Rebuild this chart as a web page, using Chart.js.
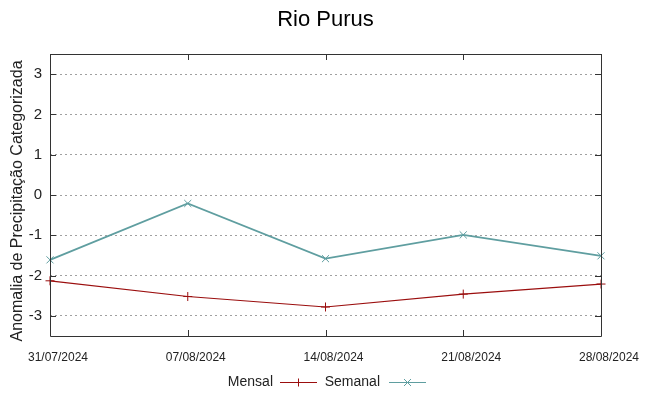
<!DOCTYPE html>
<html>
<head>
<meta charset="utf-8">
<script src="https://cdn.jsdelivr.net/npm/chart.js@4"></script>
<style>
  html, body { margin: 0; padding: 0; background: #fff; }
  #wrap { width: 649px; height: 396px; }
</style>
</head>
<body>
<div id="wrap"><canvas id="chart" width="649" height="396"></canvas></div>
<script>
// Data
const dates = ['31/07/2024', '07/08/2024', '14/08/2024', '21/08/2024', '28/08/2024'];
const mensal = [-2.13, -2.52, -2.78, -2.46, -2.21];
const semanal = [-1.61, -0.21, -1.58, -0.99, -1.51];
const yTicks = [-3, -2, -1, 0, 1, 2, 3];

const fontFamily = '"Liberation Sans", Arial, sans-serif';
const red = '#9b0e0e';
const teal = '#5f9ea0';

// gnuplot-like frame, inner tick marks, titles and legend
const gnuplotLook = {
    id: 'gnuplotLook',
    afterDraw(chart) {
        const ctx = chart.ctx;
        const a = chart.chartArea;
        const xs = chart.scales.x;
        const ys = chart.scales.y;
        ctx.save();
        ctx.strokeStyle = '#333';
        ctx.lineWidth = 1;
        ctx.beginPath();
        ctx.rect(Math.round(a.left) + 0.5, Math.round(a.top) + 0.5,
                 Math.round(a.right - a.left), Math.round(a.bottom - a.top));
        ctx.stroke();

        // tick marks inside the frame
        ctx.beginPath();
        yTicks.forEach(v => {
            const y = Math.round(ys.getPixelForValue(v)) + 0.5;
            ctx.moveTo(a.left, y); ctx.lineTo(a.left + 6, y);
            ctx.moveTo(a.right, y); ctx.lineTo(a.right - 6, y);
        });
        dates.forEach((d, i) => {
            const x = Math.round(xs.getPixelForValue(i)) + 0.5;
            ctx.moveTo(x, a.bottom); ctx.lineTo(x, a.bottom - 6);
            ctx.moveTo(x, a.top); ctx.lineTo(x, a.top + 6);
        });
        ctx.stroke();

        // title
        ctx.fillStyle = '#000';
        ctx.font = '22px ' + fontFamily;
        ctx.textAlign = 'center';
        ctx.textBaseline = 'middle';
        ctx.fillText('Rio Purus', (a.left + a.right) / 2, 20);

        // y axis title
        ctx.save();
        ctx.translate(18, 201);
        ctx.rotate(-Math.PI / 2);
        ctx.font = '16px ' + fontFamily;
        ctx.fillStyle = '#222';
        ctx.fillText('Anomalia de Precipitação Categorizada', 0, 0);
        ctx.restore();

        // legend: text then line sample with marker
        ctx.font = '14px ' + fontFamily;
        ctx.textAlign = 'right';
        const ly = 382.5;
        const entries = [
            { label: chart.data.datasets[0].label, color: red, end: 273, x0: 280, x1: 317, mark: '+' },
            { label: chart.data.datasets[1].label, color: teal, end: 380, x0: 389, x1: 426, mark: 'x' }
        ];
        entries.forEach(e => {
            ctx.fillStyle = '#222';
            ctx.fillText(e.label, e.end, ly);
            ctx.strokeStyle = e.color;
            ctx.lineWidth = 1;
            ctx.beginPath();
            ctx.moveTo(e.x0, ly); ctx.lineTo(e.x1, ly);
            const mx = (e.x0 + e.x1) / 2;
            if (e.mark === '+') {
                ctx.moveTo(mx, ly - 4); ctx.lineTo(mx, ly + 4);
            } else {
                ctx.moveTo(mx - 3.5, ly - 3.5); ctx.lineTo(mx + 3.5, ly + 3.5);
                ctx.moveTo(mx - 3.5, ly + 3.5); ctx.lineTo(mx + 3.5, ly - 3.5);
            }
            ctx.stroke();
        });
        ctx.restore();
    }
};

new Chart(document.getElementById('chart').getContext('2d'), {
    type: 'line',
    data: {
        labels: dates,
        datasets: [{
            label: 'Mensal',
            data: mensal,
            borderColor: red,
            backgroundColor: red,
            borderWidth: 1.2,
            pointStyle: 'cross',
            pointRadius: 4.5,
            pointBorderWidth: 1,
            tension: 0,
            fill: false
        }, {
            label: 'Semanal',
            data: semanal,
            borderColor: teal,
            backgroundColor: teal,
            borderWidth: 1.8,
            pointStyle: 'crossRot',
            pointRadius: 5,
            pointBorderWidth: 1,
            tension: 0,
            fill: false
        }]
    },
    options: {
        responsive: false,
        animation: false,
        layout: { padding: { top: 54, right: 48, left: 0, bottom: 0 } },
        plugins: {
            legend: { display: false },
            title: { display: false },
            tooltip: { enabled: false }
        },
        scales: {
            x: {
                type: 'category',
                offset: false,
                grid: { display: false, drawTicks: false },
                border: { display: false },
                ticks: {
                    color: '#222',
                    padding: 14,
                    labelOffset: 8,
                    maxRotation: 0,
                    autoSkip: false,
                    font: { family: fontFamily, size: 12 }
                },
                afterFit: s => { s.height = 60; }
            },
            y: {
                min: -3.5,
                max: 3.5,
                afterBuildTicks: s => { s.ticks = yTicks.map(v => ({ value: v })); },
                grid: { color: '#a0a0a0', lineWidth: 1, drawTicks: false },
                border: { display: false, dash: [2, 3] },
                ticks: {
                    color: '#222',
                    padding: 8,
                    font: { family: fontFamily, size: 15 }
                },
                afterFit: s => { s.width = 50; }
            }
        }
    },
    plugins: [gnuplotLook]
});
</script>
</body>
</html>
